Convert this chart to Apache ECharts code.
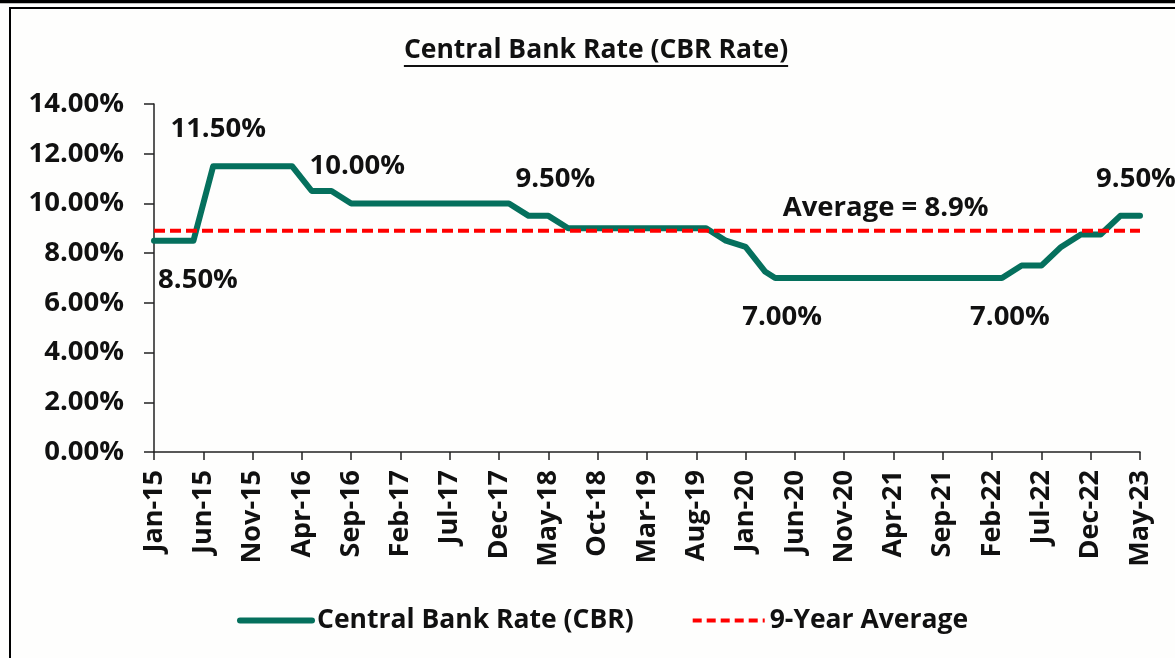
<!DOCTYPE html>
<html>
<head>
<meta charset="utf-8">
<title>Central Bank Rate (CBR Rate)</title>
<script src="https://cdn.jsdelivr.net/npm/echarts@6/dist/echarts.min.js"></script>
<style>
  html, body { margin: 0; padding: 0; background: #fefefd; }
  #chart { width: 1175px; height: 658px; }
</style>
</head>
<body>
<div id="chart"></div>
<script>
// month categories Jan-15 .. May-23
var monthNames = ['Jan', 'Feb', 'Mar', 'Apr', 'May', 'Jun', 'Jul', 'Aug', 'Sep', 'Oct', 'Nov', 'Dec'];
var months = [];
for (var yr = 15; yr <= 23; yr++) {
  for (var m = 0; m < 12; m++) {
    if (yr === 23 && m > 4) break;
    months.push(monthNames[m] + '-' + yr);
  }
}

// MPC meeting months and the CBR set at each
var mpcMonths = [
  'Jan-15', 'Mar-15', 'May-15', 'Jun-15', 'Jul-15', 'Sep-15', 'Nov-15',
  'Jan-16', 'Mar-16', 'May-16', 'Jul-16', 'Sep-16', 'Nov-16',
  'Jan-17', 'Mar-17', 'May-17', 'Jul-17', 'Sep-17', 'Nov-17',
  'Jan-18', 'Mar-18', 'May-18', 'Jul-18', 'Sep-18', 'Nov-18',
  'Jan-19', 'Mar-19', 'May-19', 'Jul-19', 'Sep-19', 'Nov-19',
  'Jan-20', 'Mar-20', 'Apr-20', 'May-20', 'Jul-20', 'Sep-20', 'Nov-20',
  'Jan-21', 'Mar-21', 'May-21', 'Jul-21', 'Sep-21', 'Nov-21',
  'Jan-22', 'Mar-22', 'May-22', 'Jul-22', 'Sep-22', 'Nov-22',
  'Jan-23', 'Mar-23', 'May-23'
];
var cbrRates = [
  8.5, 8.5, 8.5, 10, 11.5, 11.5, 11.5,
  11.5, 11.5, 10.5, 10.5, 10, 10,
  10, 10, 10, 10, 10, 10,
  10, 9.5, 9.5, 9, 9, 9,
  9, 9, 9, 9, 9, 8.5,
  8.25, 7.25, 7, 7, 7, 7, 7,
  7, 7, 7, 7, 7, 7,
  7, 7, 7.5, 7.5, 8.25, 8.75,
  8.75, 9.5, 9.5
];

var avgRate = 8.9;
var avgLabelMonth = 'Mar-21';

var yTicks = [0, 2, 4, 6, 8, 10, 12, 14];

// which points carry a value label, and where the label sits (px offset)
var labelSpots = {
  'Jan-15': [44, 39],
  'Jul-15': [5, -37],
  'Sep-16': [6, -37],
  'May-18': [7, -37],
  'Apr-20': [7, 39],
  'Mar-22': [8, 39],
  'May-23': [-4, -37]
};

var FONT = '"Open Sans", "DejaVu Sans", sans-serif';
var GREEN = '#05705d';
var RED = '#ff0000';

var labelStyle = {
  fontFamily: FONT,
  fontSize: 27.5,
  fontWeight: 'bold',
  color: '#111'
};

var cbrData = months.map(function (mo) {
  var i = mpcMonths.indexOf(mo);
  if (i < 0) return null;
  var item = { value: cbrRates[i] };
  if (labelSpots[mo]) {
    item.label = Object.assign({
      show: true,
      position: 'inside',
      offset: labelSpots[mo],
      formatter: function (p) { return p.value.toFixed(2) + '%'; }
    }, labelStyle);
  }
  return item;
});

var avgData = months.map(function (mo) {
  var item = { value: avgRate };
  if (mo === avgLabelMonth) {
    item.label = Object.assign({
      show: true,
      position: 'inside',
      offset: [2, -23],
      formatter: 'Average = ' + avgRate + '%'
    }, labelStyle);
  }
  return item;
});

// title is drawn as graphic text so it can be underlined
var titleText = 'Central Bank Rate (CBR Rate)';
var titleSize = 26.5;
var ctx = document.createElement('canvas').getContext('2d');
ctx.font = 'bold ' + titleSize + 'px "Open Sans"';
var titleW = ctx.measureText(titleText).width;
var titleCx = 596;

var chart = echarts.init(document.getElementById('chart'));

chart.setOption({
  backgroundColor: '#fefefd',
  animation: false,
  graphic: [
    { type: 'line', shape: { x1: 0, y1: 1.5, x2: 1175, y2: 1.5 }, style: { stroke: '#000', lineWidth: 3.5 } },
    { type: 'rect', shape: { x: 10, y: 8, width: 1200, height: 700 }, style: { fill: null, stroke: '#000', lineWidth: 2 } },
    {
      type: 'text', x: titleCx, y: 50,
      style: {
        text: titleText, fontFamily: FONT, fontSize: titleSize, fontWeight: 'bold',
        fill: '#111', align: 'center', verticalAlign: 'middle'
      }
    },
    { type: 'line', shape: { x1: titleCx - titleW / 2, y1: 66, x2: titleCx + titleW / 2, y2: 66 }, style: { stroke: '#111', lineWidth: 2 } }
  ],
  grid: { left: 154, right: 35, top: 104, bottom: 206 },
  legend: {
    left: 232,
    top: 602,
    itemWidth: 72,
    itemHeight: 20,
    itemGap: 57,
    itemStyle: { opacity: 0 },
    textStyle: { fontFamily: FONT, fontSize: 26.5, fontWeight: 'bold', color: '#111' },
    data: [
      { name: 'Central Bank Rate (CBR)', lineStyle: { width: 6, color: GREEN, cap: 'round' } },
      { name: '9-Year Average', lineStyle: { width: 4, color: RED, type: [9, 5] } }
    ]
  },
  xAxis: {
    type: 'category',
    data: months,
    boundaryGap: false,
    axisLine: { lineStyle: { color: '#222', width: 1.5 } },
    axisTick: { show: true, interval: 4, length: 8, lineStyle: { color: '#222', width: 1.5 } },
    axisLabel: {
      interval: 4,
      rotate: 90,
      margin: 18,
      fontFamily: FONT,
      fontSize: 27,
      fontWeight: 'bold',
      color: '#111'
    },
    splitLine: { show: false }
  },
  yAxis: {
    type: 'value',
    min: yTicks[0],
    max: yTicks[yTicks.length - 1],
    interval: 2,
    axisLine: { show: true, lineStyle: { color: '#222', width: 1.5 } },
    axisTick: { show: true, length: 10, lineStyle: { color: '#222', width: 1.5 } },
    axisLabel: {
      margin: 30,
      fontFamily: FONT,
      fontSize: 27.5,
      fontWeight: 'bold',
      color: '#111',
      formatter: function (v) { return v.toFixed(2) + '%'; }
    },
    splitLine: { show: false }
  },
  series: [
    {
      name: 'Central Bank Rate (CBR)',
      type: 'line',
      data: cbrData,
      connectNulls: true,
      showSymbol: true,
      showAllSymbol: true,
      symbol: 'circle',
      symbolSize: 0,
      itemStyle: { color: GREEN },
      lineStyle: { color: GREEN, width: 6, cap: 'round', join: 'round' },
      z: 3
    },
    {
      name: '9-Year Average',
      type: 'line',
      data: avgData,
      showSymbol: true,
      showAllSymbol: true,
      symbol: 'circle',
      symbolSize: 0,
      itemStyle: { color: RED },
      lineStyle: { color: RED, width: 4, type: [11, 5] },
      z: 4
    }
  ]
});
</script>
</body>
</html>
